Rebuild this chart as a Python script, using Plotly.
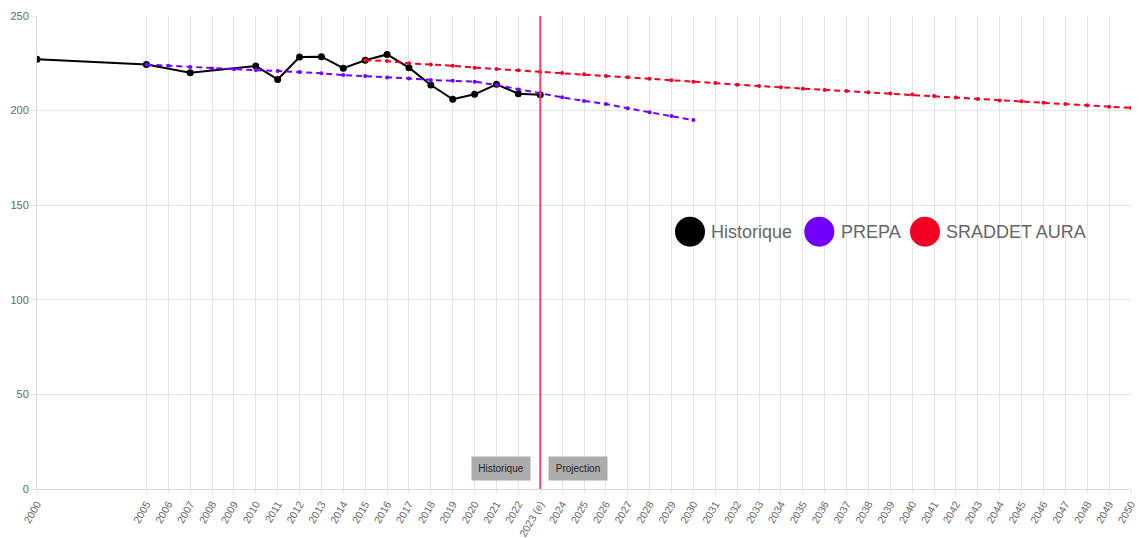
import plotly.graph_objects as go

# Historical series (years with data only)
hist_years = [2000, 2005, 2007, 2010, 2011, 2012, 2013, 2014, 2015, 2016,
              2017, 2018, 2019, 2020, 2021, 2022, 2023]
hist_values = [227.2, 224.3, 220.0, 223.6, 216.5, 228.3, 228.5, 222.4, 226.6, 229.7,
               222.7, 213.5, 206.0, 208.6, 213.9, 208.9, 208.4]

# PREPA trajectory
prepa_years = list(range(2005, 2031))
prepa_values = [224.3, 223.7, 223.0, 222.3, 221.8, 221.4, 220.9, 220.4, 219.7, 218.8,
                218.3, 217.5, 217.0, 216.2, 215.8, 215.3, 213.5, 211.2, 209.1, 207.0,
                205.1, 203.5, 201.2, 199.1, 197.1, 195.0]

# SRADDET AURA trajectory
sraddet_years = list(range(2015, 2051))
sraddet_values = [226.6, 226.2, 225.0, 224.4, 223.7, 222.7, 222.0, 221.3, 220.4, 219.9,
                  219.2, 218.3, 217.6, 216.9, 216.0, 215.3, 214.6, 213.7, 213.0, 212.3,
                  211.6, 210.9, 210.4, 209.7, 209.0, 208.5, 207.7, 206.9, 206.1, 205.4,
                  204.9, 204.2, 203.5, 202.8, 202.1, 201.4]

# x-axis ticks
tick_years = [2000] + list(range(2005, 2051))
tick_labels = ["2023 (e)" if y == 2023 else str(y) for y in tick_years]
y_ticks = [0, 50, 100, 150, 200, 250]

split_year = 2023
series_names = ["Historique", "PREPA", "SRADDET AURA"]
series_colors = ["#000000", "#7300ff", "#f20024"]

W, H = 1139, 538
ML, MR, MT, MB = 37, 8, 16, 49
PW, PH = W - ML - MR, H - MT - MB


def px_x(p):
    return (p - ML) / PW


def px_y(p):
    return (H - MB - p) / PH


FONT = "Arial, Liberation Sans, Helvetica, sans-serif"
GRID = "rgba(0,0,0,0.1)"

fig = go.Figure()

fig.add_trace(go.Scatter(
    x=hist_years, y=hist_values, mode="lines+markers", name=series_names[0],
    line=dict(color=series_colors[0], width=2),
    marker=dict(color=series_colors[0], size=7),
))
fig.add_trace(go.Scatter(
    x=prepa_years, y=prepa_values, mode="lines+markers", name=series_names[1],
    line=dict(color=series_colors[1], width=2, dash="6px,4px"),
    marker=dict(color=series_colors[1], size=4),
))
fig.add_trace(go.Scatter(
    x=sraddet_years, y=sraddet_values, mode="lines+markers", name=series_names[2],
    line=dict(color=series_colors[2], width=2, dash="6px,4px"),
    marker=dict(color=series_colors[2], size=4),
))

shapes = []
annotations = []

# separator between history and projection
shapes.append(dict(type="line", xref="x", yref="paper", x0=split_year, x1=split_year,
                   y0=0, y1=1, line=dict(color="rgba(255,50,85,0.9)", width=2),
                   layer="above"))

for txt, anchor, shift in [("Historique", "right", -9), ("Projection", "left", 8)]:
    annotations.append(dict(
        x=split_year, xref="x", y=px_y(468.6), yref="paper",
        xanchor=anchor, yanchor="middle", xshift=shift,
        text=txt, showarrow=False,
        font=dict(family=FONT, size=10, color="#222"),
        bgcolor="#acacac", borderpad=5, width=48, height=13,
    ))

# legend panel
shapes.append(dict(type="rect", xref="paper", yref="paper",
                   x0=px_x(666), x1=px_x(1101), y0=px_y(256), y1=px_y(206),
                   fillcolor="white", line=dict(width=0), layer="between"))
shapes.append(dict(type="rect", xref="paper", yref="paper",
                   x0=px_x(795), x1=px_x(1101), y0=px_y(207), y1=px_y(202),
                   fillcolor="white", line=dict(width=0), layer="between"))

legend_cx = [690, 819.3, 925]
legend_tx = [709, 839, 944]
cy = px_y(231.7)
for name, color, cx, tx in zip(series_names, series_colors, legend_cx, legend_tx):
    shapes.append(dict(type="circle", xref="paper", yref="paper",
                       xsizemode="pixel", ysizemode="pixel",
                       xanchor=px_x(cx), yanchor=cy,
                       x0=-15, x1=15, y0=-15, y1=15,
                       fillcolor=color, line=dict(width=0), layer="above"))
    annotations.append(dict(x=px_x(tx), y=cy, xref="paper", yref="paper",
                            xanchor="left", yanchor="middle", showarrow=False,
                            text=name, font=dict(family=FONT, size=18, color="#666")))

fig.update_layout(
    width=W, height=H,
    margin=dict(l=ML, r=MR, t=MT, b=MB, autoexpand=False),
    paper_bgcolor="white", plot_bgcolor="white",
    showlegend=False,
    font=dict(family=FONT, color="#666"),
    shapes=shapes, annotations=annotations,
)
fig.update_xaxes(
    range=[2000, 2050], tickmode="array", tickvals=tick_years, ticktext=tick_labels,
    tickangle=-60, tickfont=dict(size=10.5, color="#666"), automargin=False,
    showgrid=True, gridcolor=GRID, gridwidth=1,
    ticks="outside", ticklen=4, tickcolor=GRID,
    showline=True, linecolor="rgba(0,0,0,0.15)", linewidth=1,
    zeroline=False,
)
fig.update_yaxes(
    range=[0, 250], tickmode="array", tickvals=y_ticks,
    tickfont=dict(size=11, color="#666"), automargin=False,
    showgrid=True, gridcolor=GRID, gridwidth=1,
    ticks="outside", ticklen=5, tickcolor=GRID,
    showline=True, linecolor="rgba(0,0,0,0.15)", linewidth=1,
    zeroline=False,
)

fig.write_html("out.html")
